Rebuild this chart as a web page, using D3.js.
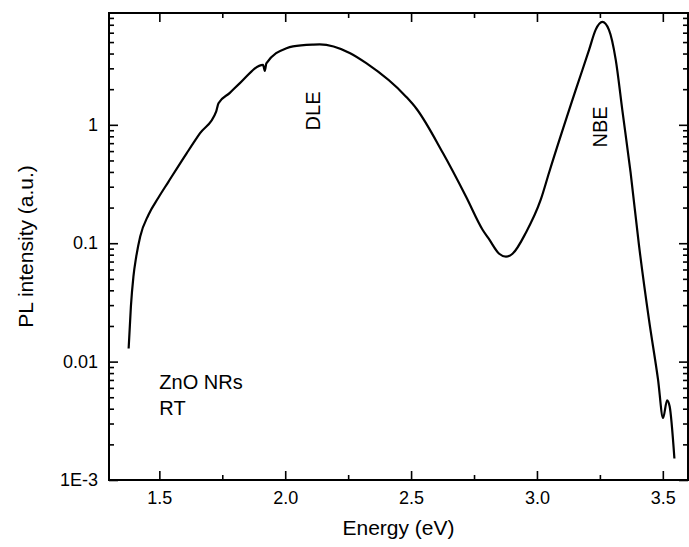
<!DOCTYPE html>
<html>
<head>
<meta charset="utf-8">
<script src="https://cdn.jsdelivr.net/npm/d3@7"></script>
<style>
  body { margin: 0; background: #fff; }
  svg text { font-family: "Liberation Sans", Arial, sans-serif; fill: #000; }
</style>
</head>
<body>
<div id="chart"></div>
<script>
const width = 689,
    height = 547,
    margin = {top: 13, right: 1, bottom: 67, left: 109};

// PL spectrum
const energy = [1.378, 1.387, 1.397, 1.408, 1.424, 1.457, 1.496, 1.536, 1.609, 1.661,
    1.726, 1.735, 1.78, 1.82, 1.912, 1.919, 1.925, 2.005, 2.031, 2.11, 2.137,
    2.256, 2.322, 2.48, 2.52, 2.626, 2.718, 2.784, 2.811, 2.85, 2.877,
    2.903, 2.956, 3.015, 3.048, 3.154, 3.207, 3.233, 3.26, 3.286, 3.313,
    3.339, 3.372, 3.405, 3.445, 3.481, 3.501, 3.517, 3.527, 3.546];
const intensity = [0.0129, 0.0293, 0.0522, 0.0766, 0.114, 0.174, 0.242, 0.33, 0.577, 0.845,
    1.3, 1.52, 1.86, 2.25, 3.21, 2.85, 3.3, 4.44, 4.6, 4.76, 4.78,
    4.05, 3.32, 1.73, 1.38, 0.58, 0.248, 0.13, 0.107, 0.0815, 0.0769,
    0.0815, 0.1227, 0.233, 0.394, 1.97, 4.29, 6.34, 7.4, 6.34, 3.54,
    1.34, 0.394, 0.0971, 0.0226, 0.00705, 0.00334, 0.00471, 0.00419, 0.00152];

const xMajor = [1.5, 2.0, 2.5, 3.0, 3.5],
    xMinor = [1.75, 2.25, 2.75, 3.25];
const yMajor = [0.001, 0.01, 0.1, 1],
    yMajorLabels = ["1E-3", "0.01", "0.1", "1"];
const yMinor = [];
[0.001, 0.01, 0.1, 1].forEach(d => {
    for (let m = 2; m <= 9; m++) if (d * m < 8.8) yMinor.push(d * m);
});

const data = energy.map((e, i) => ({e: e, v: intensity[i]}));

const innerW = width - margin.left - margin.right,
    innerH = height - margin.top - margin.bottom;

let svg = d3.select("div#chart").append("svg")
    .attr("width", width)
    .attr("height", height);

let g = svg.append("g")
    .attr("transform", `translate(${margin.left},${margin.top})`);

let x = d3.scaleLinear()
    .domain([1.3, 3.6])
    .range([0, innerW]);

let y = d3.scaleLog()
    .domain([0.001, 8.8])
    .range([innerH, 0]);

// Axes, ticks pointing inward on all four sides
function drawAxis(axis, transform) {
    let a = g.append("g")
        .attr("transform", transform)
        .call(axis);
    a.select(".domain").remove();
    a.selectAll("line").attr("stroke", "#000").attr("stroke-width", 1.6);
    return a;
}

let bottom = drawAxis(d3.axisBottom(x).tickValues(xMajor).tickSize(-9).tickPadding(11)
    .tickFormat(d3.format(".1f")), `translate(0,${innerH})`);
drawAxis(d3.axisBottom(x).tickValues(xMinor).tickSize(-5).tickFormat(""), `translate(0,${innerH})`);
drawAxis(d3.axisTop(x).tickValues(xMajor).tickSize(-9).tickFormat(""), "translate(0,0)");
drawAxis(d3.axisTop(x).tickValues(xMinor).tickSize(-5).tickFormat(""), "translate(0,0)");

let left = drawAxis(d3.axisLeft(y).tickValues(yMajor).tickSize(-9).tickPadding(11)
    .tickFormat((d, i) => yMajorLabels[i]), "translate(0,0)");
drawAxis(d3.axisLeft(y).tickValues(yMinor).tickSize(-5).tickFormat(""), "translate(0,0)");
drawAxis(d3.axisRight(y).tickValues(yMajor).tickSize(-9).tickFormat(""), `translate(${innerW},0)`);
drawAxis(d3.axisRight(y).tickValues(yMinor).tickSize(-5).tickFormat(""), `translate(${innerW},0)`);

bottom.selectAll("text").style("font-size", "18px");
left.selectAll("text").style("font-size", "18px");

// frame
g.append("rect")
    .attr("width", innerW)
    .attr("height", innerH)
    .attr("fill", "none")
    .attr("stroke", "#000")
    .attr("stroke-width", 2);

// the spectrum
g.append("clipPath").attr("id", "clip")
  .append("rect").attr("width", innerW).attr("height", innerH);

let line = d3.line()
    .x(d => x(d.e))
    .y(d => y(d.v))
    .curve(d3.curveMonotoneX);

g.append("path")
    .datum(data)
    .attr("clip-path", "url(#clip)")
    .attr("fill", "none")
    .attr("stroke", "#000")
    .attr("stroke-width", 2.2)
    .attr("stroke-linejoin", "round")
    .attr("d", line);

// axis titles
svg.append("text")
    .attr("x", margin.left + innerW / 2)
    .attr("y", 535)
    .attr("text-anchor", "middle")
    .style("font-size", "21px")
    .text("Energy (eV)");

svg.append("text")
    .attr("transform", `translate(33,${margin.top + innerH / 2}) rotate(-90)`)
    .attr("text-anchor", "middle")
    .style("font-size", "21px")
    .text("PL intensity (a.u.)");

// peak labels
g.append("text")
    .attr("transform", `translate(${x(2.11) + 7},${y(1.31)}) rotate(-90)`)
    .attr("text-anchor", "middle")
    .style("font-size", "20px")
    .text("DLE");

g.append("text")
    .attr("transform", `translate(${x(3.25) + 7},${y(0.96)}) rotate(-90)`)
    .attr("text-anchor", "middle")
    .style("font-size", "20px")
    .text("NBE");

g.append("text")
    .attr("x", x(1.5))
    .attr("y", 389 - margin.top)
    .style("font-size", "20px")
    .text("ZnO NRs");

g.append("text")
    .attr("x", x(1.5))
    .attr("y", 415 - margin.top)
    .style("font-size", "20px")
    .text("RT");
</script>
</body>
</html>
